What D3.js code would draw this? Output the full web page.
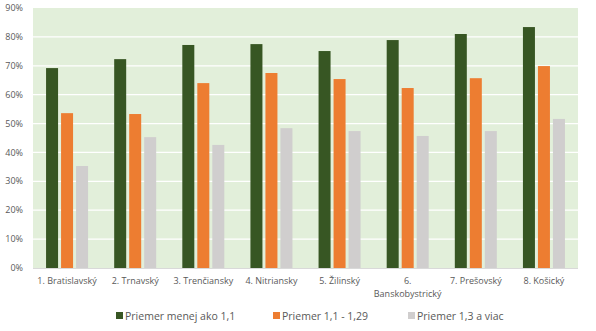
<!DOCTYPE html>
<html><head><meta charset="utf-8">
<script src="https://cdn.jsdelivr.net/npm/d3@7"></script>
<style>body{margin:0;background:#fff;}svg{display:block;font-family:"Open Sans",sans-serif;}</style>
</head><body><svg id="c" width="596" height="331"></svg>
<script>
const categories = ["1. Bratislavský","2. Trnavský","3. Trenčiansky","4. Nitriansky","5. Žilinský","6. Banskobystrický","7. Prešovský","8. Košický"];
const seriesNames = ["Priemer menej ako 1,1","Priemer 1,1 - 1,29","Priemer 1,3 a viac"];
const seriesColors = ["#375623","#ED7D31","#D0CECE"];
const s1 = [69.2,72.3,77.2,77.5,75.1,78.9,81.0,83.4];
const s2 = [53.6,53.3,64.0,67.5,65.4,62.3,65.7,69.9];
const s3 = [35.3,45.3,42.6,48.4,47.4,45.7,47.4,51.6];
const yTicks = [0,10,20,30,40,50,60,70,80,90];
const series = [s1,s2,s3];

const svg = d3.select("#c");
const L=33,R=578,T=8,B=268;
const x = d3.scaleBand().domain(categories).range([L,R]);
const y = d3.scaleLinear().domain([0,90]).range([B,T]);
svg.append("rect").attr("x",L).attr("y",T).attr("width",R-L).attr("height",B-T).attr("fill","#E2EFDA");
svg.append("g").selectAll("line").data(yTicks.filter(d=>d>0&&d<90)).join("line")
  .attr("x1",L).attr("x2",R).attr("y1",d=>y(d)).attr("y2",d=>y(d)).attr("stroke","#fff").attr("stroke-width",1.3);
const bw=12, gap=3;
series.forEach((s,i)=>{
  svg.append("g").selectAll("rect").data(s).join("rect")
    .attr("x",(d,j)=>x(categories[j])+x.bandwidth()/2-(3*bw+2*gap)/2+i*(bw+gap))
    .attr("width",bw).attr("y",d=>y(d)).attr("height",d=>B-y(d)).attr("fill",seriesColors[i]);
});
svg.append("line").attr("x1",L).attr("x2",R).attr("y1",B+0.5).attr("y2",B+0.5).attr("stroke","#D9D9D9");
svg.append("g").selectAll("text").data(yTicks).join("text")
  .attr("x",23).attr("y",d=>y(d)).attr("dy","0.35em").attr("text-anchor","end")
  .attr("font-size",9).attr("fill","#595959").text(d=>d+"%");
const cat = svg.append("g").selectAll("text").data(categories).join("text")
  .attr("text-anchor","middle").attr("font-size",9).attr("fill","#595959");
cat.each(function(d){
  const t=d3.select(this), cx=x(d)+x.bandwidth()/2;
  const parts = d==="6. Banskobystrický" ? ["6.","Banskobystrický"] : [d];
  parts.forEach((p,k)=>t.append("tspan").attr("x",cx).attr("y",284+k*13).text(p));
});
const legX=[116,273,408];
const lg = svg.append("g").selectAll("g").data(seriesNames).join("g").attr("transform",(d,i)=>`translate(${legX[i]},316)`);
lg.append("rect").attr("x",0).attr("y",-4).attr("width",7).attr("height",7).attr("fill",(d,i)=>seriesColors[i]);
lg.append("text").attr("x",9).attr("y",0).attr("dy","0.35em").attr("font-size",10.5).attr("fill","#595959").text(d=>d);
</script></body></html>
